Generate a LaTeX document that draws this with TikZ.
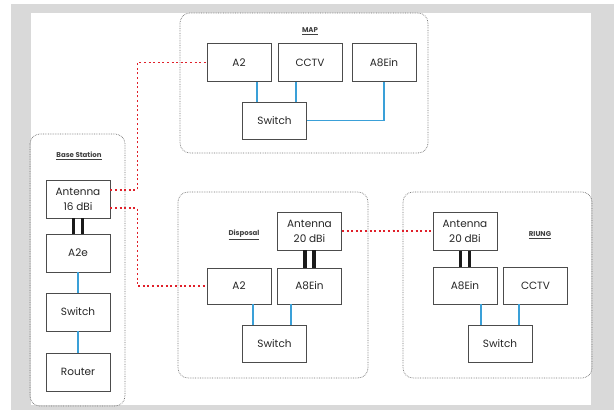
\documentclass[tikz,border=0pt]{standalone}
\usepackage{fontspec}
\setmainfont{Poppins}
\definecolor{lanblue}{HTML}{3AA0D8}
\definecolor{linkred}{HTML}{E0202A}
\definecolor{frame}{HTML}{D9D9D9}
\begin{document}
\begin{tikzpicture}[x=1pt,y=-1pt,
  dev/.style={draw=black!70,fill=white,line width=0.9pt,minimum width=64pt,minimum height=38pt,inner sep=0pt,align=center,font=\fontsize{10.5}{15}\selectfont,text=black!85},
  zone/.style={draw=black!55,densely dotted,line width=0.7pt,rounded corners=10pt},
  tag/.style={font=\fontsize{7}{8}\selectfont\bfseries,text=black!75},
  lan/.style={draw=lanblue,line width=1.2pt},
  link/.style={draw=linkred,line width=1.4pt,dash pattern=on 2pt off 2.6pt},
  bar/.style={draw=black!90,line width=3.6pt}]
\useasboundingbox (0,0) rectangle (614,410);
\fill[frame] (11,4) rectangle (614,410);
\fill[white] (31,13) rectangle (591,405);
% zones
\draw[zone] (30,134) rectangle (125,406);
\draw[zone] (180,13) rectangle (428,153);
\draw[zone] (178,192) rectangle (368,378);
\draw[zone] (403,192) rectangle (592,378);
\node[tag] (bsTag) at (79,156) {\underline{Base Station}};
\node[tag] (mapTag) at (310,31) {\underline{MAP}};
\node[tag] (dispTag) at (244,235) {\underline{Disposal}};
\node[tag] (riTag) at (540,235) {\underline{RIUNG}};
% base station
\node[dev] (bsAnt) at (78,199) {Antenna\\16 dBi};
\node[dev] (bsA2e) at (78,253) {A2e};
\node[dev] (bsSw) at (78,312) {Switch};
\node[dev] (bsRt) at (78,372) {Router};
% MAP
\node[dev] (mapA2) at (239,62.5) {A2};
\node[dev] (mapCctv) at (310,62.5) {CCTV};
\node[dev] (mapA8) at (384,62.5) {A8Ein};
\node[dev,minimum height=37pt] (mapSw) at (274.5,120.5) {Switch};
% Disposal
\node[dev] (dispAnt) at (309.5,231) {Antenna\\20 dBi};
\node[dev,minimum height=36pt] (dispA2) at (239,286) {A2};
\node[dev,minimum height=36pt] (dispA8) at (309.5,286) {A8Ein};
\node[dev,minimum height=37pt] (dispSw) at (274.5,343.5) {Switch};
% RIUNG
\node[dev] (riAnt) at (465,231.5) {Antenna\\20 dBi};
\node[dev,minimum height=37pt] (riA8) at (465,285.5) {A8Ein};
\node[dev,minimum height=37pt] (riCctv) at (535.5,285.5) {CCTV};
\node[dev,minimum height=37pt] (riSw) at (500,343.5) {Switch};
% antenna cables
\foreach \a/\b in {bsAnt/bsA2e,dispAnt/dispA8,riAnt/riA8}{
  \draw[bar] ([xshift=-4.5pt]\a.south) -- ([xshift=-4.5pt]\b.north);
  \draw[bar] ([xshift=4.5pt]\a.south) -- ([xshift=4.5pt]\b.north);
}
% lan
\draw[lan] (bsA2e) -- (bsSw);
\draw[lan] (bsSw) -- (bsRt);
\draw[lan] ([xshift=18pt]mapA2.south) -- ([xshift=18pt]mapA2.south |- mapSw.north);
\draw[lan] ([xshift=-14pt]mapCctv.south) -- ([xshift=-14pt]mapCctv.south |- mapSw.north);
\draw[lan] (mapA8.south) |- (mapSw.east);
\draw[lan] ([xshift=14pt]dispA2.south) -- ([xshift=14pt]dispA2.south |- dispSw.north);
\draw[lan] ([xshift=-18.5pt]dispA8.south) -- ([xshift=-18.5pt]dispA8.south |- dispSw.north);
\draw[lan] ([xshift=16pt]riA8.south) -- ([xshift=16pt]riA8.south |- riSw.north);
\draw[lan] ([xshift=-16.5pt]riCctv.south) -- ([xshift=-16.5pt]riCctv.south |- riSw.north);
% radio links
\draw[link] ([yshift=9pt]bsAnt.east) -- ++(27,0) |- (mapA2.west);
\draw[link] ([yshift=-9pt]bsAnt.east) -- ++(27,0) |- (dispA2.west);
\draw[link] (dispAnt.east) -- (dispAnt.east -| riAnt.west);
\end{tikzpicture}
\end{document}
